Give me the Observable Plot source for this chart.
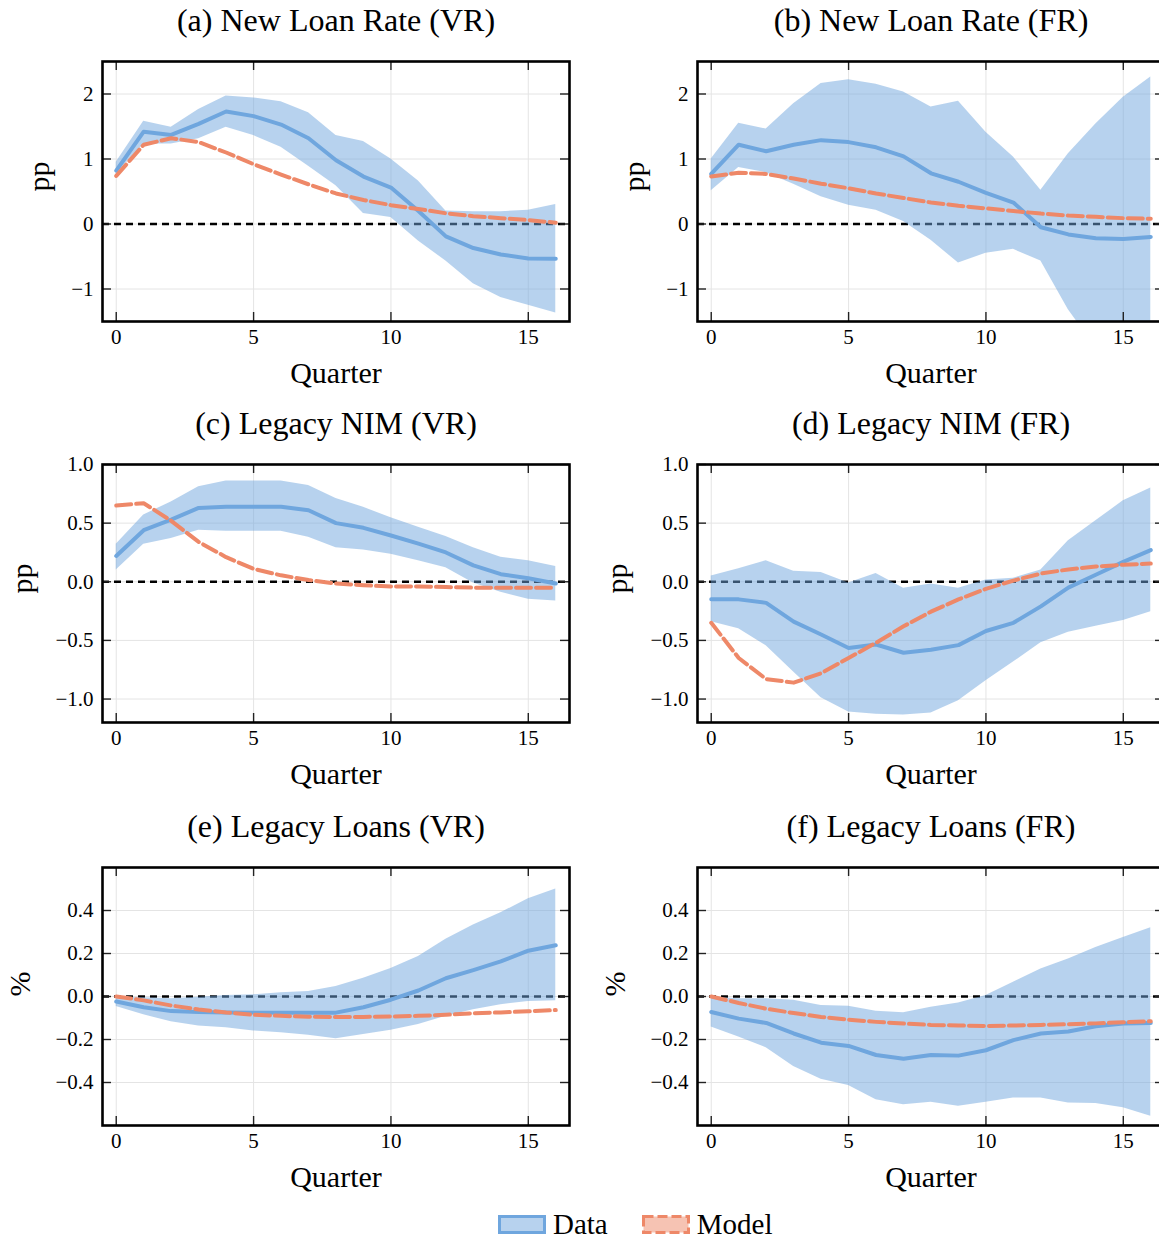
<!DOCTYPE html>
<html>
<head>
<meta charset="utf-8">
<script src="https://cdn.jsdelivr.net/npm/d3@7"></script>
<script src="https://cdn.jsdelivr.net/npm/@observablehq/plot@0.6"></script>
<style>
  html, body { margin: 0; padding: 0; background: #fff; }
  #fig { position: relative; width: 1159px; height: 1241px; overflow: hidden; font-family: "Liberation Serif", serif; color: #000; }
  .panel { position: absolute; width: 580px; }
  .panel svg { max-width: none !important; display: block; }
  #legend { position: absolute; left: 498px; top: 1208px; display: flex; align-items: center; font-size: 29px; }
  #legend .item { display: flex; align-items: center; }
  #legend svg { display: block; }
</style>
</head>
<body>
<div id="fig"></div>
<script>
// ---- data ----
const quarters = [0,1,2,3,4,5,6,7,8,9,10,11,12,13,14,15,16];
const xTicks = [0,5,10,15];

// (a) New Loan Rate (VR)
const aData  = [0.82,1.42,1.37,1.54,1.73,1.66,1.53,1.32,0.98,0.73,0.56,0.20,-0.19,-0.37,-0.47,-0.53,-0.535];
const aHi    = [0.95,1.58,1.49,1.76,1.97,1.94,1.88,1.71,1.36,1.27,1.00,0.66,0.20,0.19,0.19,0.21,0.30];
const aLo    = [0.77,1.23,1.23,1.31,1.49,1.36,1.18,0.89,0.59,0.16,0.10,-0.26,-0.57,-0.92,-1.13,-1.25,-1.37];
const aModel = [0.74,1.22,1.32,1.26,1.10,0.92,0.76,0.61,0.47,0.37,0.29,0.23,0.165,0.12,0.09,0.06,0.02];

// (b) New Loan Rate (FR)
const bData  = [0.77,1.22,1.12,1.22,1.29,1.26,1.18,1.04,0.78,0.65,0.48,0.33,-0.05,-0.16,-0.22,-0.23,-0.20];
const bHi    = [1.00,1.55,1.46,1.85,2.16,2.22,2.15,2.03,1.80,1.89,1.41,1.03,0.52,1.08,1.54,1.95,2.26];
const bLo    = [0.51,0.87,0.79,0.61,0.42,0.29,0.21,0.04,-0.25,-0.60,-0.45,-0.39,-0.57,-1.32,-1.90,-2.20,-2.40];
const bModel = [0.73,0.79,0.77,0.70,0.62,0.55,0.47,0.40,0.33,0.28,0.24,0.20,0.16,0.13,0.11,0.09,0.08];

// (c) Legacy NIM (VR)
const cData  = [0.22,0.44,0.53,0.63,0.64,0.64,0.64,0.61,0.50,0.46,0.395,0.325,0.25,0.14,0.065,0.03,-0.015];
const cHi    = [0.32,0.57,0.68,0.81,0.86,0.86,0.86,0.82,0.71,0.635,0.545,0.465,0.385,0.29,0.21,0.18,0.13];
const cLo    = [0.10,0.32,0.37,0.44,0.43,0.43,0.43,0.38,0.29,0.27,0.235,0.18,0.12,-0.01,-0.09,-0.15,-0.165];
const cModel = [0.65,0.67,0.52,0.34,0.21,0.11,0.055,0.015,-0.015,-0.03,-0.04,-0.04,-0.045,-0.05,-0.05,-0.05,-0.05];

// (d) Legacy NIM (FR)
const dData  = [-0.15,-0.15,-0.18,-0.34,-0.45,-0.565,-0.535,-0.605,-0.58,-0.54,-0.42,-0.35,-0.21,-0.05,0.06,0.17,0.27];
const dHi    = [0.05,0.11,0.18,0.09,0.08,-0.01,0.07,-0.055,-0.02,-0.055,0.015,0.03,0.10,0.35,0.52,0.69,0.80];
const dLo    = [-0.34,-0.40,-0.545,-0.77,-0.99,-1.11,-1.13,-1.135,-1.12,-1.015,-0.845,-0.685,-0.52,-0.43,-0.38,-0.33,-0.255];
const dModel = [-0.35,-0.65,-0.83,-0.86,-0.78,-0.65,-0.52,-0.38,-0.255,-0.15,-0.06,0.01,0.07,0.105,0.13,0.145,0.155];

// (e) Legacy Loans (VR)
const eData  = [-0.023,-0.05,-0.068,-0.072,-0.074,-0.075,-0.075,-0.075,-0.075,-0.05,-0.015,0.028,0.085,0.123,0.163,0.213,0.238];
const eHi    = [-0.003,-0.006,-0.01,-0.003,0.005,0.008,0.017,0.023,0.046,0.085,0.13,0.186,0.266,0.332,0.389,0.455,0.50];
const eLo    = [-0.046,-0.085,-0.118,-0.137,-0.145,-0.16,-0.169,-0.18,-0.197,-0.177,-0.157,-0.13,-0.092,-0.062,-0.038,-0.023,-0.02];
const eModel = [0.0,-0.018,-0.042,-0.06,-0.074,-0.085,-0.09,-0.094,-0.095,-0.095,-0.093,-0.09,-0.085,-0.078,-0.074,-0.069,-0.063];

// (f) Legacy Loans (FR)
const fData  = [-0.072,-0.103,-0.123,-0.172,-0.215,-0.23,-0.272,-0.29,-0.272,-0.275,-0.25,-0.203,-0.172,-0.163,-0.138,-0.126,-0.123];
const fHi    = [-0.003,-0.01,-0.01,-0.018,-0.042,-0.045,-0.069,-0.075,-0.05,-0.03,0.005,0.066,0.128,0.174,0.228,0.274,0.32];
const fLo    = [-0.142,-0.188,-0.238,-0.326,-0.385,-0.414,-0.48,-0.503,-0.492,-0.51,-0.492,-0.472,-0.472,-0.495,-0.498,-0.518,-0.557];
const fModel = [0.0,-0.03,-0.057,-0.077,-0.095,-0.108,-0.118,-0.126,-0.132,-0.135,-0.137,-0.135,-0.132,-0.129,-0.125,-0.12,-0.115];

const ticksRate = [-1,0,1,2];
const ticksNim = [-1,-0.5,0,0.5,1];
const ticksLoans = [-0.4,-0.2,0,0.2,0.4];

// ---- styling ----
const BLUE = "#6fa6de";
const ORANGE = "#ee8868";
const FONT = "Liberation Serif";

function panel(cfg) {
  const {title, ylabel, data, lo, hi, model, yDomain, yTicks, fmt, frameH, ylabelDx} = cfg;
  const rows = quarters.map((q, i) => ({q, d: data[i], lo: lo[i], hi: hi[i], m: model[i]}));
  const frameW = 467, tk = 9;
  const mT = 61, mB = 80;
  return Plot.plot({
    width: 580,
    height: mT + frameH + mB,
    marginTop: mT, marginBottom: mB, marginLeft: 102, marginRight: 11,
    x: {domain: [-0.5, 16.5]},
    y: {domain: yDomain},
    style: {fontFamily: FONT, fontSize: "21px", color: "#000", background: "transparent", overflow: "visible", maxWidth: "none"},
    marks: [
      Plot.gridX(xTicks, {stroke: "#e4e4e4", strokeOpacity: 1, strokeWidth: 1}),
      Plot.gridY(yTicks, {stroke: "#e4e4e4", strokeOpacity: 1, strokeWidth: 1}),
      Plot.ruleY([0], {stroke: "#000", strokeWidth: 2.5, strokeDasharray: "7,5"}),
      Plot.areaY(rows, {x: "q", y1: "lo", y2: "hi", fill: BLUE, fillOpacity: 0.5, clip: true}),
      Plot.lineY(rows, {x: "q", y: "d", stroke: BLUE, strokeWidth: 4, clip: true}),
      Plot.lineY(rows, {x: "q", y: "m", stroke: ORANGE, strokeWidth: 4, strokeDasharray: "15,5", clip: true}),
      Plot.tickY(yTicks, {y: d => d, insetRight: frameW - tk, stroke: "#222", strokeWidth: 1.4}),
      Plot.tickY(yTicks, {y: d => d, insetLeft: frameW - tk, stroke: "#222", strokeWidth: 1.4}),
      Plot.tickX(xTicks, {x: d => d, insetTop: frameH - tk, stroke: "#222", strokeWidth: 1.4}),
      Plot.tickX(xTicks, {x: d => d, insetBottom: frameH - tk, stroke: "#222", strokeWidth: 1.4}),
      Plot.frame({stroke: "#000", strokeWidth: 2.6}),
      Plot.axisY(yTicks, {tickSize: 0, tickPadding: 9, tickFormat: fmt, label: null, fontSize: 21}),
      Plot.axisX(xTicks, {tickSize: 0, tickPadding: 8, tickFormat: d3.format("d"), label: null, fontSize: 21}),
      Plot.text([title], {text: d => d, frameAnchor: "top", dy: -41, fontSize: 32, lineAnchor: "middle"}),
      Plot.text(["Quarter"], {text: d => d, frameAnchor: "bottom", dy: 52, fontSize: 30, lineAnchor: "middle"}),
      Plot.text([ylabel], {text: d => d, frameAnchor: "left", dx: ylabelDx, rotate: -90, fontSize: 30, lineAnchor: "middle"})
    ]
  });
}

const fmtInt = d3.format("d");
const fmt1 = d3.format(".1f");

const panels = [
  {left: 0,   top: 0,   title: "(a) New Loan Rate (VR)", ylabel: "pp", data: aData, lo: aLo, hi: aHi, model: aModel, yDomain: [-1.5, 2.5], yTicks: ticksRate, fmt: fmtInt, frameH: 260, ylabelDx: -63},
  {left: 595, top: 0,   title: "(b) New Loan Rate (FR)", ylabel: "pp", data: bData, lo: bLo, hi: bHi, model: bModel, yDomain: [-1.5, 2.5], yTicks: ticksRate, fmt: fmtInt, frameH: 260, ylabelDx: -63},
  {left: 0,   top: 403, title: "(c) Legacy NIM (VR)", ylabel: "pp", data: cData, lo: cLo, hi: cHi, model: cModel, yDomain: [-1.2, 1.0], yTicks: ticksNim, fmt: fmt1, frameH: 258, ylabelDx: -80},
  {left: 595, top: 403, title: "(d) Legacy NIM (FR)", ylabel: "pp", data: dData, lo: dLo, hi: dHi, model: dModel, yDomain: [-1.2, 1.0], yTicks: ticksNim, fmt: fmt1, frameH: 258, ylabelDx: -80},
  {left: 0,   top: 806, title: "(e) Legacy Loans (VR)", ylabel: "%", data: eData, lo: eLo, hi: eHi, model: eModel, yDomain: [-0.6, 0.6], yTicks: ticksLoans, fmt: fmt1, frameH: 258, ylabelDx: -82},
  {left: 595, top: 806, title: "(f) Legacy Loans (FR)", ylabel: "%", data: fData, lo: fLo, hi: fHi, model: fModel, yDomain: [-0.6, 0.6], yTicks: ticksLoans, fmt: fmt1, frameH: 258, ylabelDx: -82}
];

const fig = document.getElementById("fig");
for (const p of panels) {
  const div = document.createElement("div");
  div.className = "panel";
  div.style.left = p.left + "px";
  div.style.top = p.top + "px";
  div.appendChild(panel(p));
  fig.appendChild(div);
}

// legend
const legend = document.createElement("div");
legend.id = "legend";
legend.innerHTML = `
  <div class="item">
    <svg width="50" height="22"><rect x="1.5" y="2.5" width="45" height="16" fill="${BLUE}" fill-opacity="0.5" stroke="${BLUE}" stroke-width="3"/></svg>
    <span style="margin-left:5px">Data</span>
  </div>
  <div class="item" style="margin-left:34px">
    <svg width="50" height="22"><rect x="1.5" y="2.5" width="45" height="16" fill="${ORANGE}" fill-opacity="0.5" stroke="${ORANGE}" stroke-width="3" stroke-dasharray="10,4"/></svg>
    <span style="margin-left:5px">Model</span>
  </div>`;
fig.appendChild(legend);
</script>
</body>
</html>
